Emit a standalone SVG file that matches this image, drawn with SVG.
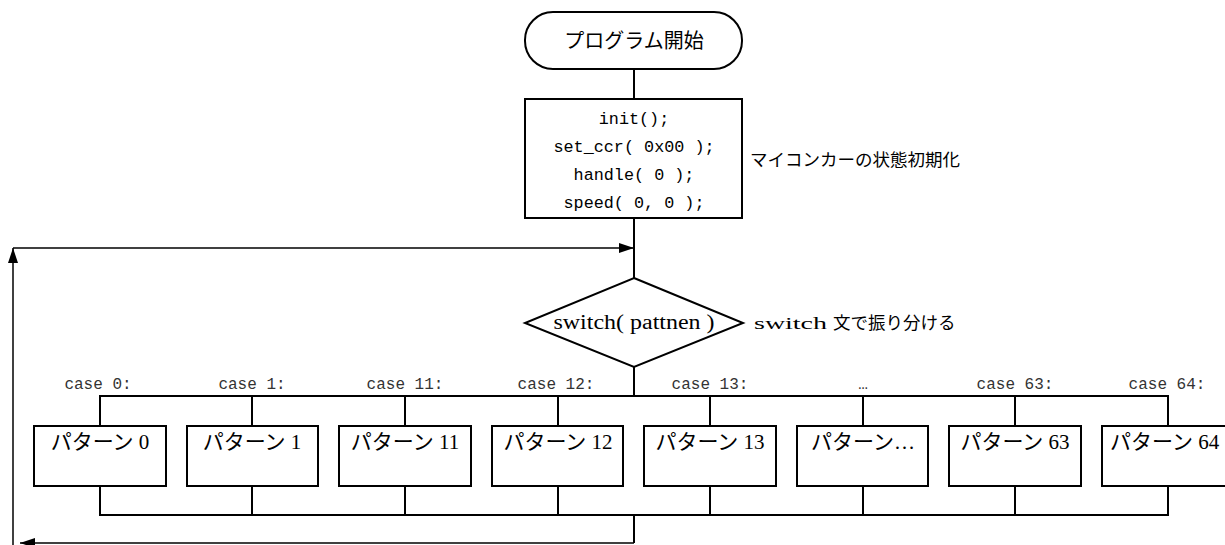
<svg xmlns="http://www.w3.org/2000/svg" width="1225" height="545" viewBox="0 0 1225 545">
<style>
.shape{fill:#fff;stroke:#000;stroke-width:2}
.ln{fill:none;stroke:#000;stroke-width:2}
.lp{fill:none;stroke:#000;stroke-width:1.5}
.jp{font-family:"Liberation Serif","Noto Sans CJK JP",serif;font-size:20px;fill:#000}
.box{font-size:21px}
.code{font-family:"Liberation Mono","Noto Sans CJK JP",monospace;font-size:16.8px;fill:#000}
.case{font-family:"Liberation Mono","Noto Sans CJK JP",monospace;font-size:16px;fill:#333}
.side{font-family:"Liberation Serif","Noto Sans CJK JP",serif;font-size:17.5px;fill:#000}
.mid{text-anchor:middle}
</style>
<defs>
<marker id="ah" markerWidth="15" markerHeight="10" refX="15" refY="5" orient="auto" markerUnits="userSpaceOnUse">
<path d="M0,0 L15,5 L0,10 Z" fill="#000"/>
</marker>
</defs>
<g id="connectors">
<line class="ln" x1="634" y1="69" x2="634" y2="99"/>
<line class="ln" x1="634" y1="218" x2="634" y2="278"/>
<line class="ln" x1="634" y1="367" x2="634" y2="396"/>
<polyline class="ln" points="100,426 100,396 1168,396 1168,426"/>
<line class="ln" x1="252" y1="396" x2="252" y2="426"/>
<line class="ln" x1="405" y1="396" x2="405" y2="426"/>
<line class="ln" x1="558" y1="396" x2="558" y2="426"/>
<line class="ln" x1="710" y1="396" x2="710" y2="426"/>
<line class="ln" x1="863" y1="396" x2="863" y2="426"/>
<line class="ln" x1="1015" y1="396" x2="1015" y2="426"/>
<polyline class="ln" points="100,486 100,515 1168,515 1168,486"/>
<line class="ln" x1="252" y1="486" x2="252" y2="515"/>
<line class="ln" x1="405" y1="486" x2="405" y2="515"/>
<line class="ln" x1="558" y1="486" x2="558" y2="515"/>
<line class="ln" x1="710" y1="486" x2="710" y2="515"/>
<line class="ln" x1="863" y1="486" x2="863" y2="515"/>
<line class="ln" x1="1015" y1="486" x2="1015" y2="515"/>
<line class="ln" x1="634" y1="515" x2="634" y2="543"/>
<line class="lp" x1="634" y1="543" x2="20" y2="543" marker-end="url(#ah)"/>
<line class="lp" x1="13" y1="545" x2="13" y2="248" marker-end="url(#ah)"/>
<line class="lp" x1="13" y1="248" x2="634" y2="248" marker-end="url(#ah)"/>
</g>
<g id="start">
<rect class="shape" x="525" y="12" width="217" height="57" rx="28" ry="28"/>
<text class="jp mid" x="634" y="48">プログラム開始</text>
</g>
<g id="init">
<rect class="shape" x="525" y="99" width="217" height="119"/>
<text class="code mid" x="634" y="124">init();</text>
<text class="code mid" x="634" y="152">set_ccr( 0x00 );</text>
<text class="code mid" x="634" y="180">handle( 0 );</text>
<text class="code mid" x="634" y="208">speed( 0, 0 );</text>
</g>
<g id="init-note">
<text class="side" x="750" y="166">マイコンカーの状態初期化</text>
</g>
<g id="switch">
<polygon class="shape" points="634,278 743,323 634,367 525,323"/>
<text class="jp mid" x="634" y="329" font-size="19" textLength="161" lengthAdjust="spacingAndGlyphs">switch( pattnen )</text>
</g>
<g id="switch-note">
<text class="side" x="754" y="329" font-size="18.5"><tspan textLength="73" lengthAdjust="spacingAndGlyphs">switch</tspan><tspan x="833">文で振り分ける</tspan></text>
</g>
<g id="case-labels">
<text class="case mid" x="98" y="389">case 0:</text>
<text class="case mid" x="252" y="389">case 1:</text>
<text class="case mid" x="405" y="389">case 11:</text>
<text class="case mid" x="556" y="389">case 12:</text>
<text class="case mid" x="710" y="389">case 13:</text>
<text class="case mid" x="863" y="389">…</text>
<text class="case mid" x="1015" y="389">case 63:</text>
<text class="case mid" x="1167" y="389">case 64:</text>
</g>
<g id="p0"><rect class="shape" x="34" y="426" width="132" height="60"/><text class="jp box mid" x="100" y="449">パターン 0</text></g>
<g id="p1"><rect class="shape" x="187" y="426" width="131" height="60"/><text class="jp box mid" x="252" y="449">パターン 1</text></g>
<g id="p11"><rect class="shape" x="339" y="426" width="132" height="60"/><text class="jp box mid" x="405" y="449">パターン 11</text></g>
<g id="p12"><rect class="shape" x="492" y="426" width="131" height="60"/><text class="jp box mid" x="558" y="449">パターン 12</text></g>
<g id="p13"><rect class="shape" x="644" y="426" width="132" height="60"/><text class="jp box mid" x="710" y="449">パターン 13</text></g>
<g id="pdots"><rect class="shape" x="797" y="426" width="131" height="60"/><text class="jp box mid" x="863" y="449">パターン…</text></g>
<g id="p63"><rect class="shape" x="949" y="426" width="132" height="60"/><text class="jp box mid" x="1015" y="449">パターン 63</text></g>
<g id="p64"><rect class="shape" x="1102" y="426" width="132" height="60"/><text class="jp box" x="1110" y="449">パターン 64</text></g>
</svg>
